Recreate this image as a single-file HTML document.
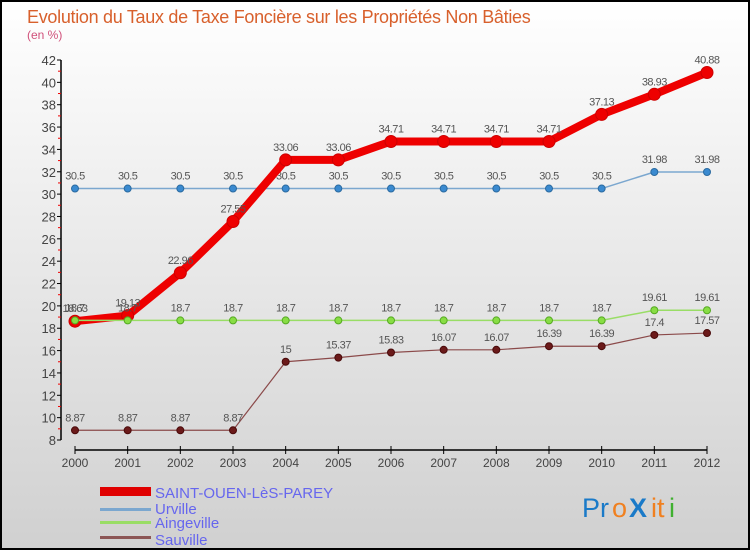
<!DOCTYPE html>
<html><head><meta charset="utf-8"><style>
body{margin:0}
#c{width:750px;height:550px;position:relative;font-family:"Liberation Sans",sans-serif}
</style></head><body>
<div id="c">
<svg id="s" width="750" height="550" xmlns="http://www.w3.org/2000/svg">
<defs><linearGradient id="bg" x1="0" y1="0" x2="0" y2="1"><stop offset="0" stop-color="#ffffff"/><stop offset="1" stop-color="#d0d0d0"/></linearGradient></defs>
<rect x="1" y="1" width="748" height="548" fill="url(#bg)" stroke="#000" stroke-width="2"/>
<text x="27" y="23" font-size="18" fill="#d8602c" letter-spacing="-0.3">Evolution du Taux de Taxe Foncière sur les Propriétés Non Bâties</text>
<text x="27" y="39" font-size="12" fill="#d0507a">(en %)</text>
<g id="axes"></g><g id="series"></g>
<g>
<rect x="100" y="487" width="51" height="9" fill="#e00000"/>
<text x="155" y="498" font-size="15" fill="#6666ee">SAINT-OUEN-LèS-PAREY</text>
<rect x="100" y="508" width="51" height="3" fill="#7ba7cf"/>
<text x="155" y="514" font-size="15" fill="#6666ee">Urville</text>
<rect x="100" y="521" width="51" height="3" fill="#99dd66"/>
<text x="155" y="528" font-size="15" fill="#6666ee">Aingeville</text>
<rect x="100" y="536" width="51" height="3" fill="#8b5555"/>
<text x="155" y="545" font-size="15" fill="#6666ee">Sauville</text>
</g>
<g font-size="27">
<text x="582" y="517" fill="#1a7ac8">Pr</text><text x="612" y="517" fill="#f08020">o</text><text x="629" y="517" fill="#1a7ac8" font-weight="bold">X</text><text x="651" y="517" fill="#f08020">it</text><text x="669" y="517" fill="#40b030">i</text>
</g>
</svg></div>
<script>
const years=["2000","2001","2002","2003","2004","2005","2006","2007","2008","2009","2010","2011","2012"];
const yTicks=[8,10,12,14,16,18,20,22,24,26,28,30,32,34,36,38,40,42];
const saintOuen=[18.63,19.13,22.96,27.55,33.06,33.06,34.71,34.71,34.71,34.71,37.13,38.93,40.88];
const urville=[30.5,30.5,30.5,30.5,30.5,30.5,30.5,30.5,30.5,30.5,30.5,31.98,31.98];
const aingeville=[18.7,18.7,18.7,18.7,18.7,18.7,18.7,18.7,18.7,18.7,18.7,19.61,19.61];
const sauville=[8.87,8.87,8.87,8.87,15,15.37,15.83,16.07,16.07,16.39,16.39,17.4,17.57];
const NS="http://www.w3.org/2000/svg";
const xS=i=>75+i*(707-75)/(years.length-1);
const yS=v=>440-(v-8)*380/34;
function mk(tag,attrs,parent){const e=document.createElementNS(NS,tag);for(const k in attrs)e.setAttribute(k,attrs[k]);parent.appendChild(e);return e;}
const ax=document.getElementById('axes');
let l=mk('line',{x1:61,y1:yS(42),x2:61,y2:yS(8),stroke:'#000','stroke-width':1.5},ax);


yTicks.forEach((v,i)=>{
 const t=mk('line',{x1:57,x2:61,y1:yS(v),y2:yS(v),stroke:'#000'},ax);
 
 
 const m=mk('line',{x1:58,x2:61,y1:yS(v+1),y2:yS(v+1),stroke:'#e00'},ax);
 if(v===42)m.remove();
 
 
 const tx=mk('text',{x:56,y:yS(v)+5,'font-size':13,fill:'#444','text-anchor':'end'},ax);
 tx.textContent=v;
 
 
});
l=mk('line',{x1:75,y1:450,x2:707,y2:450,stroke:'#000','stroke-width':1.5},ax);


years.forEach((y,i)=>{
 const t=mk('line',{x1:xS(i),x2:xS(i),y1:446,y2:454,stroke:'#000'},ax);
 
 
 const tx=mk('text',{x:xS(i),y:467,'font-size':12,fill:'#444','text-anchor':'middle'},ax);
 tx.textContent=y;
 
 
});
const sg=document.getElementById('series');
function series(vals,name,color,w,r,dot,dotStroke){
 const g=mk('g',{},sg);
 
 
 const p=mk('polyline',{points:vals.map((v,i)=>xS(i)+','+yS(v)).join(' '),fill:'none',stroke:color,'stroke-width':w,'stroke-linejoin':'round'},g);
 
 
 vals.forEach((v,i)=>{
  const c=mk('circle',{cx:xS(i),cy:yS(v),r:r,fill:dot,stroke:dotStroke,'stroke-width':1},g);
  
  
  const t=mk('text',{x:xS(i),y:yS(v)-9,'font-size':11,fill:'#555','text-anchor':'middle','letter-spacing':'-0.5'},g);
  t.textContent=v;
  
  
 });
}
series(sauville,'sauville','#8b4a4a',1.2,3.5,'#6b1a1a','#4a0a0a');
series(urville,'urville','#7ba7cf',1.5,3.5,'#3a8ad0','#2a6aa0');
series(saintOuen,'saint-ouen','#ee0000',8,6,'#ee0000','#cc0000');
series(aingeville,'aingeville','#99dd66',1.5,3.5,'#88dd44','#55aa22');
</script>
</body></html>
